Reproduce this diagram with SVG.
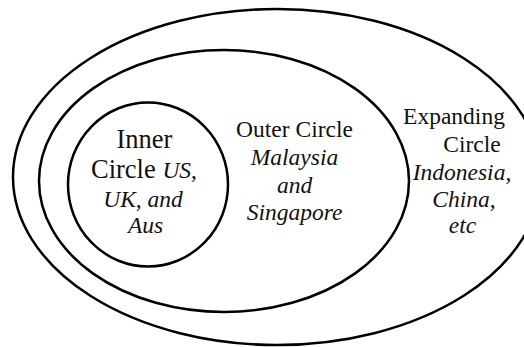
<svg xmlns="http://www.w3.org/2000/svg" width="524" height="347" viewBox="0 0 524 347">
<style>
.ring{fill:none;stroke:#000;stroke-width:2.5}
text{font-size:23.5px;fill:#111;text-anchor:middle}
.i{font-style:italic}
.big{font-size:26.5px}
</style>
<rect width="524" height="347" fill="#fff"/>
<g font-family="'Liberation Serif', 'Times New Roman', Times, 'DejaVu Serif', serif">
<g id="expanding">
<ellipse class="ring" cx="277" cy="177" rx="264" ry="168"/>
<text x="454" y="124">Expanding</text>
<text x="472" y="152">Circle</text>
<text class="i" x="462" y="180">Indonesia,</text>
<text class="i" x="464" y="207">China,</text>
<text class="i" x="462.5" y="233">etc</text>
</g>
<g id="outer">
<ellipse class="ring" cx="224" cy="181" rx="185" ry="131"/>
<text x="294.5" y="137">Outer Circle</text>
<text class="i" x="294.5" y="165">Malaysia</text>
<text class="i" x="294.5" y="193">and</text>
<text class="i" x="294.5" y="220">Singapore</text>
</g>
<g id="inner">
<ellipse class="ring" cx="148" cy="184.5" rx="80" ry="82"/>
<text class="big" x="144.5" y="147.5">Inner</text>
<text x="144" y="178"><tspan class="big">Circle </tspan><tspan class="i">US</tspan>,</text>
<text x="143" y="206.5"><tspan class="i">UK</tspan>, <tspan class="i">and</tspan></text>
<text class="i" x="145.5" y="233">Aus</text>
</g>
</g>
<g id="connectors"></g>
</svg>
